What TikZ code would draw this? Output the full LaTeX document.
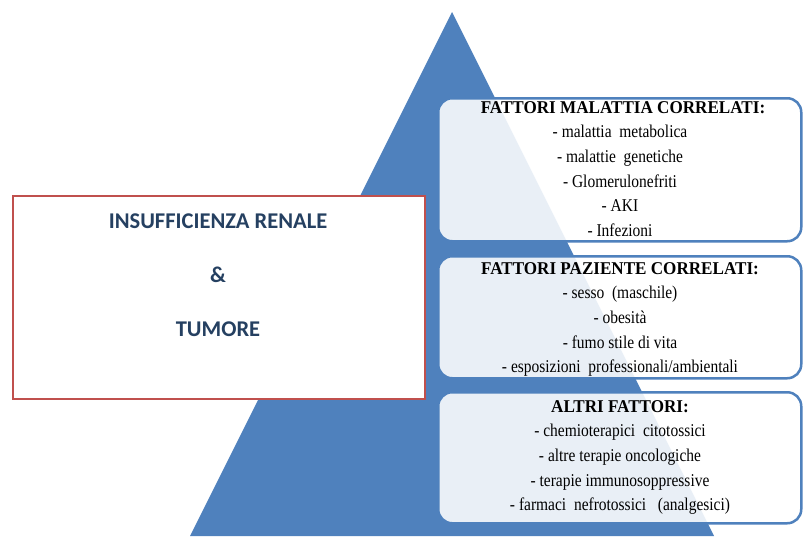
\documentclass[tikz,border=0pt]{standalone}
\usepackage{fontspec}
\setmainfont[FakeStretch=0.86]{Liberation Serif}
\newfontfamily\ttlfont[FakeStretch=0.95]{Liberation Serif}
\newfontfamily\calib{Carlito}
\definecolor{pyr}{RGB}{79,129,189}
\definecolor{redb}{RGB}{192,80,77}
\definecolor{navy}{RGB}{37,64,97}
\tikzset{
  listbox/.style={draw=pyr, line width=2.5pt, fill=white, fill opacity=0.88, rounded corners=14pt, anchor=north west, inner sep=0pt},
  listtext/.style={align=center, inner sep=0pt, font=\fontsize{18}{24.6}\selectfont, text=black},
  mainbox/.style={draw=redb, line width=1.8pt, fill=white, anchor=north west, inner sep=0pt},
  maintext/.style={align=center, inner sep=0pt, text=navy, font=\calib\bfseries\fontsize{22.5}{54}\selectfont},
}
\newcommand{\ttl}[1]{{\ttlfont\fontsize{18}{24.6}\selectfont\bfseries #1}}
\begin{document}
\begin{tikzpicture}[x=1pt,y=-1pt]
\useasboundingbox (0,0) rectangle (803,536);
\fill[white] (0,0) rectangle (803,536);
\coordinate (apex) at (452,12);
\coordinate (bl) at (190,536);
\coordinate (br) at (714,536);
\fill[pyr] (apex) -- (br) -- (bl) -- cycle;

\node[mainbox, minimum width=412pt, minimum height=203pt] (main) at (12,195) {};
\node[maintext] (mt) at (218,275) {INSUFFICIENZA RENALE\\\&\\TUMORE};

\node[listbox, minimum width=363pt, minimum height=143pt] (b1) at (437,97) {};
\node[listbox, minimum width=363pt, minimum height=122pt] (b2) at (437,255) {};
\node[listbox, minimum width=363pt, minimum height=131pt] (b3) at (437,391) {};

\node[listtext] (t1) at (620,169) {\ttl{\hspace*{6pt}FATTORI MALATTIA CORRELATI:}\\- malattia\ \ metabolica\\- malattie\ \ genetiche\\- Glomerulonefriti\\- AKI\\- Infezioni};
\node[listtext] (t2) at (620,319.5) {\ttl{FATTORI PAZIENTE CORRELATI:}\\- sesso\ \ (maschile)\\- obesità\\- fumo stile di vita\\- esposizioni\ \ professionali/ambientali};
\node[listtext] (t3) at (620,457.5) {\ttl{ALTRI FATTORI:}\\- chemioterapici\ \ citotossici\\- altre terapie oncologiche\\- terapie immunosoppressive\\- farmaci\ \ nefrotossici\ \ \ (analgesici)};
\end{tikzpicture}
\end{document}
